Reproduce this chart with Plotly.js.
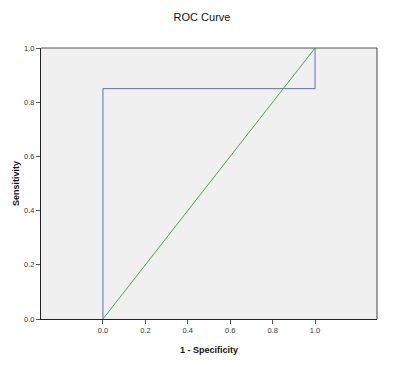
<!DOCTYPE html>
<html><head><meta charset="utf-8">
<script src="https://cdn.plot.ly/plotly-3.0.1.min.js"></script>
<style>html,body{margin:0;padding:0;background:#fff}#c{width:404px;height:367px}</style>
</head><body><div id="c"></div>
<script>
const rocX = [0, 0, 1, 1];
const rocY = [0, 0.85, 0.85, 1];
const refX = [0, 1];
const refY = [0, 1];
const tickVals = [0, 0.2, 0.4, 0.6, 0.8, 1.0];
const tickText = ["0.0", "0.2", "0.4", "0.6", "0.8", "1.0"];

const traces = [
  {x: rocX, y: rocY, type: 'scatter', mode: 'lines', line: {color: '#5a6fb8', width: 1}, hoverinfo: 'none'},
  {x: refX, y: refY, type: 'scatter', mode: 'lines', line: {color: '#3fae4a', width: 1}, hoverinfo: 'none'}
];
const layout = {
  width: 404, height: 367,
  margin: {l: 41, r: 27, t: 48, b: 48},
  paper_bgcolor: '#ffffff', plot_bgcolor: '#f0f0f0',
  showlegend: false,
  font: {family: 'Liberation Sans, Arial, sans-serif', color: '#222'},
  title: {text: 'ROC Curve', font: {size: 11, color: '#111'}, x: 0.5, xanchor: 'center', y: 0.953, yanchor: 'middle'},
  xaxis: {range: [-0.292, 1.292], tickvals: tickVals, ticktext: tickText, ticks: 'outside', ticklen: 4, tickcolor: '#555',
    tickfont: {size: 7.5, color: '#333'}, showgrid: false, zeroline: false, showline: true, linecolor: '#222', linewidth: 1,
    mirror: false, title: {text: '<b>1 - Specificity</b>', font: {size: 9, color: '#111'}, standoff: 12}},
  yaxis: {range: [0, 1], tickvals: tickVals, ticktext: tickText, ticks: 'outside', ticklen: 4, tickcolor: '#555',
    tickfont: {size: 7.5, color: '#333'}, showgrid: false, zeroline: false, showline: true, linecolor: '#222', linewidth: 1,
    title: {text: '<b>Sensitivity</b>', font: {size: 9, color: '#111'}, standoff: 2}},
  shapes: [
    {type: 'line', xref: 'paper', yref: 'paper', x0: 0, x1: 1, y0: 1, y1: 1, line: {color: '#555', width: 1}},
    {type: 'line', xref: 'paper', yref: 'paper', x0: 1, x1: 1, y0: 0, y1: 1, line: {color: '#444', width: 1}}
  ]
};
Plotly.newPlot('c', traces, layout, {staticPlot: true, displayModeBar: false});
</script></body></html>
